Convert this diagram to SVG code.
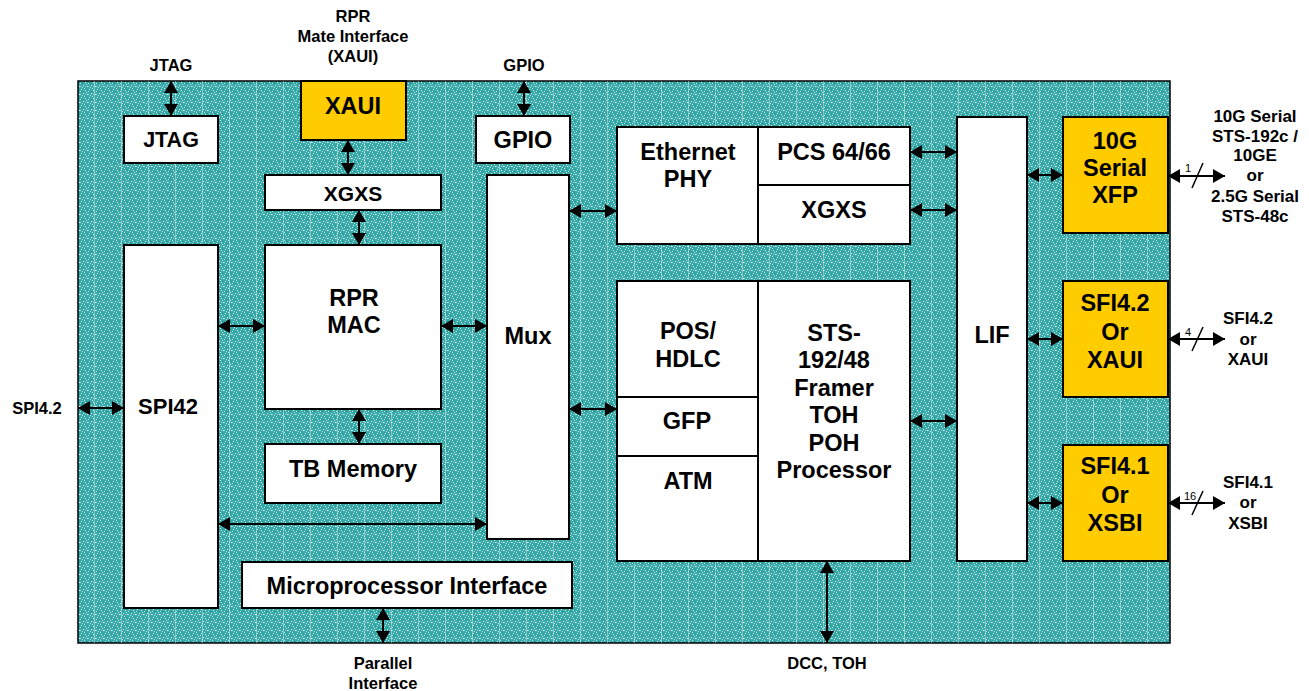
<svg xmlns="http://www.w3.org/2000/svg" width="1309" height="691" viewBox="0 0 1309 691">
<defs>
<style>
.box{fill:#fff;stroke:#000;stroke-width:2}
.yel{fill:#ffcc00;stroke:#000;stroke-width:2}
.t{font-family:"Liberation Sans",Arial,sans-serif;font-weight:bold;font-size:23.5px;text-anchor:middle;fill:#000}
.s{font-family:"Liberation Sans",Arial,sans-serif;font-weight:bold;font-size:16.5px;text-anchor:middle;fill:#000}
.r{font-family:"Liberation Sans",Arial,sans-serif;font-weight:bold;font-size:17px;text-anchor:middle;fill:#000}
.n{font-family:"Liberation Sans",Arial,sans-serif;font-size:11px;fill:#000}
.c{stroke:#000;stroke-width:2;fill:none;marker-start:url(#ah);marker-end:url(#ah)}
.sl{stroke:#000;stroke-width:1.5}
.dv{stroke:#000;stroke-width:2}
</style>
<marker id="ah" viewBox="0 0 12 14" refX="12" refY="7" markerWidth="12" markerHeight="14" markerUnits="userSpaceOnUse" orient="auto-start-reverse">
<path d="M0,0 L12,7 L0,14 Z" fill="#000"/>
</marker>
<pattern id="tex" width="8" height="8" patternUnits="userSpaceOnUse">
<rect width="8" height="8" fill="#36a8a8"/>
<rect x="1" y="1" width="1" height="1" fill="#e6f6f6"/>
<rect x="5" y="2" width="1" height="1" fill="#f2fbfb"/>
<rect x="3" y="5" width="1" height="1" fill="#d6eeee"/>
<rect x="7" y="6" width="1" height="1" fill="#eaf8f8"/>
<rect x="0" y="3" width="1" height="1" fill="#b4e1e1"/>
<rect x="4" y="0" width="1" height="1" fill="#c8e9e9"/>
<rect x="6" y="4" width="1" height="1" fill="#d0ecec"/>
<rect x="2" y="7" width="1" height="1" fill="#bce4e4"/>
<rect x="5" y="6" width="1" height="1" fill="#9ad5d5"/>
<rect x="0" y="6" width="1" height="1" fill="#a6dada"/>
<rect x="2" y="3" width="1" height="1" fill="#0e9292"/>
<rect x="6" y="1" width="1" height="1" fill="#139595"/>
</pattern>
<pattern id="vl" width="27" height="9" patternUnits="userSpaceOnUse">
<rect x="13" y="0" width="1" height="9" fill="#ffffff" opacity="0.4"/>
</pattern>
</defs>

<g id="chip">
<rect x="78" y="81" width="1092" height="562" fill="url(#tex)" stroke="#000" stroke-width="1.5"/>
<rect x="78" y="81" width="1092" height="562" fill="url(#vl)"/>
</g>

<g id="jtag"><rect class="box" x="124" y="116" width="94" height="47"/><text class="t" x="171" y="147" style="font-size:21.5px">JTAG</text></g>
<g id="xaui"><rect class="yel" x="301" y="81" width="105" height="59"/><text class="t" x="353" y="114">XAUI</text></g>
<g id="gpio"><rect class="box" x="476" y="116" width="94" height="47"/><text class="t" x="523" y="148">GPIO</text></g>
<g id="xgxs1"><rect class="box" x="265" y="175" width="176" height="35"/><text class="t" x="353" y="201" style="font-size:21px">XGXS</text></g>
<g id="mux"><rect class="box" x="487" y="175" width="82" height="364"/><text class="t" x="528" y="344">Mux</text></g>
<g id="spi42"><rect class="box" x="124" y="245" width="94" height="363"/><text class="t" x="168" y="414" style="font-size:22px">SPI42</text></g>
<g id="rprmac"><rect class="box" x="265" y="245" width="176" height="164"/><text class="t" x="354" y="306">RPR</text><text class="t" x="354" y="333">MAC</text></g>
<g id="tbmem"><rect class="box" x="265" y="444" width="176" height="59"/><text class="t" x="353" y="477">TB Memory</text></g>
<g id="mpi"><rect class="box" x="242" y="562" width="330" height="46"/><text class="t" x="407" y="594">Microprocessor Interface</text></g>

<g id="ethphy">
<rect class="box" x="617" y="127" width="293" height="117"/>
<line class="dv" x1="758" y1="127" x2="758" y2="244"/>
<line class="dv" x1="758" y1="185" x2="910" y2="185"/>
<text class="t" x="688" y="160">Ethernet</text>
<text class="t" x="688" y="187">PHY</text>
<text class="t" x="834" y="160">PCS 64/66</text>
<text class="t" x="834" y="218">XGXS</text>
</g>

<g id="framer">
<rect class="box" x="617" y="281" width="293" height="280"/>
<line class="dv" x1="758" y1="281" x2="758" y2="561"/>
<line class="dv" x1="617" y1="397" x2="758" y2="397"/>
<line class="dv" x1="617" y1="456" x2="758" y2="456"/>
<text class="t" x="688" y="339">POS/</text>
<text class="t" x="688" y="367">HDLC</text>
<text class="t" x="687" y="429">GFP</text>
<text class="t" x="688" y="489">ATM</text>
<text class="t" x="834" y="341">STS-</text>
<text class="t" x="834" y="368">192/48</text>
<text class="t" x="834" y="396">Framer</text>
<text class="t" x="834" y="423">TOH</text>
<text class="t" x="834" y="451">POH</text>
<text class="t" x="834" y="478">Processor</text>
</g>

<g id="lif"><rect class="box" x="957" y="117" width="70" height="444"/><text class="t" x="992" y="343">LIF</text></g>

<g id="xfp"><rect class="yel" x="1063" y="117" width="105" height="116"/>
<text class="t" x="1115" y="149">10G</text><text class="t" x="1115" y="176">Serial</text><text class="t" x="1115" y="203">XFP</text></g>
<g id="sfi42"><rect class="yel" x="1063" y="281" width="105" height="116"/>
<text class="t" x="1115" y="311">SFI4.2</text><text class="t" x="1115" y="340">Or</text><text class="t" x="1115" y="368">XAUI</text></g>
<g id="sfi41"><rect class="yel" x="1063" y="445" width="105" height="116"/>
<text class="t" x="1115" y="474">SFI4.1</text><text class="t" x="1115" y="503">Or</text><text class="t" x="1115" y="531">XSBI</text></g>

<g id="labels">
<text class="s" x="353" y="22">RPR</text>
<text class="s" x="353" y="42">Mate Interface</text>
<text class="s" x="353" y="62">(XAUI)</text>
<text class="s" x="171" y="71">JTAG</text>
<text class="s" x="524" y="71">GPIO</text>
<text class="s" x="37" y="414">SPI4.2</text>
<text class="s" x="383" y="669">Parallel</text>
<text class="s" x="383" y="689">Interface</text>
<text class="s" x="827" y="669">DCC, TOH</text>
<text class="r" x="1255" y="122">10G Serial</text>
<text class="r" x="1255" y="142">STS-192c /</text>
<text class="r" x="1255" y="161">10GE</text>
<text class="r" x="1255" y="181">or</text>
<text class="r" x="1255" y="202">2.5G Serial</text>
<text class="r" x="1255" y="222">STS-48c</text>
<text class="r" x="1248" y="324">SFI4.2</text>
<text class="r" x="1248" y="345">or</text>
<text class="r" x="1248" y="365">XAUI</text>
<text class="r" x="1248" y="488">SFI4.1</text>
<text class="r" x="1248" y="508">or</text>
<text class="r" x="1248" y="529">XSBI</text>
<text class="n" x="1185" y="172">1</text>
<text class="n" x="1185" y="336">4</text>
<text class="n" x="1184" y="500">16</text>
</g>

<g id="connectors">
<line class="c" x1="171" y1="81" x2="171" y2="116"/>
<line class="c" x1="348" y1="140" x2="348" y2="175"/>
<line class="c" x1="524" y1="81" x2="524" y2="116"/>
<line class="c" x1="359" y1="210" x2="359" y2="245"/>
<line class="c" x1="359" y1="409" x2="359" y2="444"/>
<line class="c" x1="218" y1="326" x2="265" y2="326"/>
<line class="c" x1="441" y1="326" x2="487" y2="326"/>
<line class="c" x1="78" y1="408" x2="124" y2="408"/>
<line class="c" x1="218" y1="524" x2="487" y2="524"/>
<line class="c" x1="569" y1="211" x2="617" y2="211"/>
<line class="c" x1="569" y1="409" x2="617" y2="409"/>
<line class="c" x1="910" y1="152" x2="957" y2="152"/>
<line class="c" x1="910" y1="210" x2="957" y2="210"/>
<line class="c" x1="910" y1="421" x2="957" y2="421"/>
<line class="c" x1="1027" y1="175" x2="1063" y2="175"/>
<line class="c" x1="1027" y1="339" x2="1063" y2="339"/>
<line class="c" x1="1027" y1="503" x2="1063" y2="503"/>
<line class="c" x1="1168" y1="176" x2="1225" y2="176"/>
<line class="c" x1="1168" y1="339" x2="1225" y2="339"/>
<line class="c" x1="1168" y1="503" x2="1225" y2="503"/>
<line class="c" x1="383" y1="608" x2="383" y2="643"/>
<line class="c" x1="827" y1="561" x2="827" y2="643"/>
<line class="sl" x1="1192" y1="188" x2="1203" y2="163"/>
<line class="sl" x1="1192" y1="351" x2="1203" y2="327"/>
<line class="sl" x1="1192" y1="515" x2="1203" y2="491"/>
</g>
</svg>
